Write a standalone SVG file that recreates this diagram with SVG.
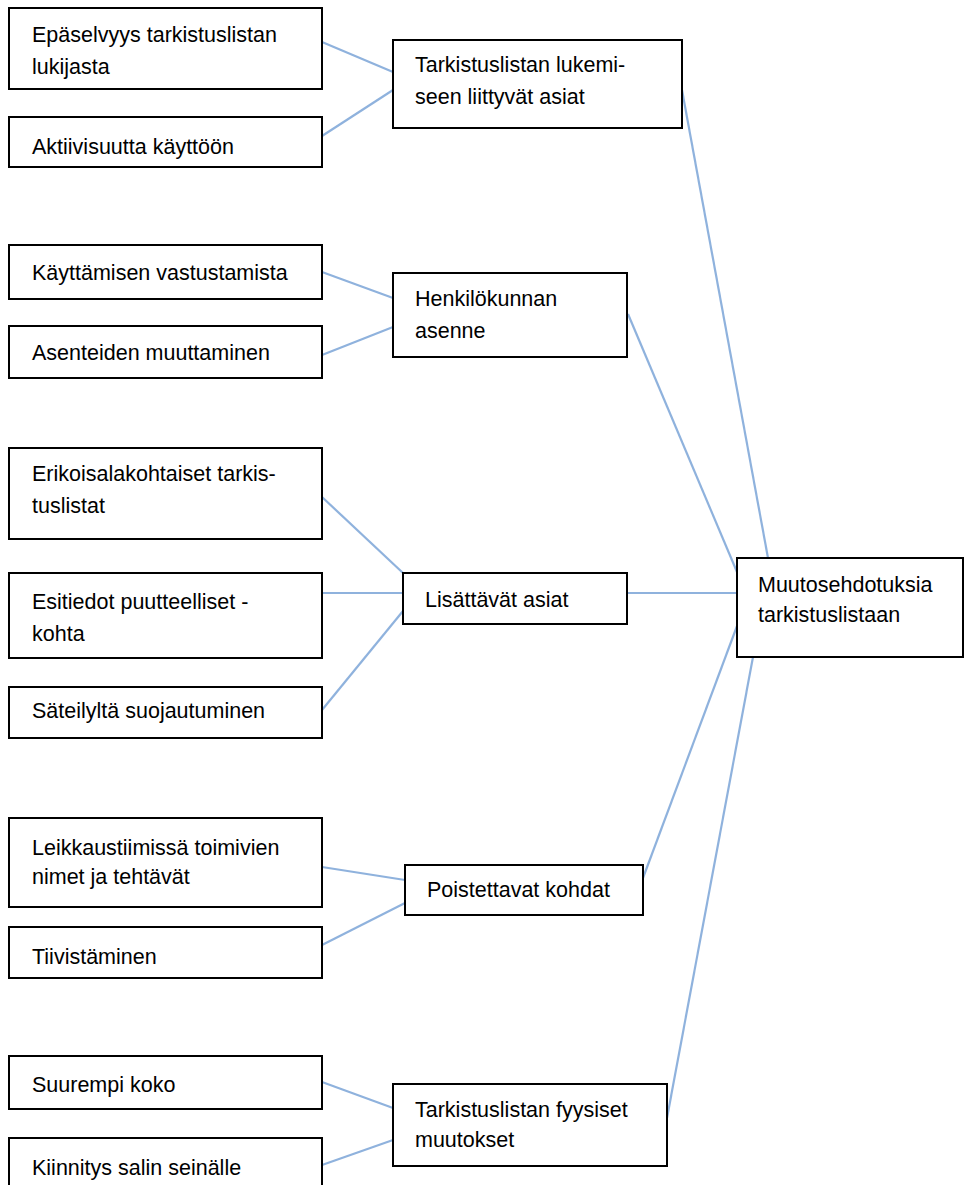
<svg xmlns="http://www.w3.org/2000/svg" width="964" height="1185" viewBox="0 0 964 1185">
<style>
.box{fill:#fff;stroke:#000;stroke-width:2}
.t{font-family:"Liberation Sans",Arial,sans-serif;font-size:21.5px;fill:#000}
.c line{stroke:#8fb2dd;stroke-width:2.2}
</style>
<rect width="964" height="1185" fill="#fff"/>
<g class="c" id="connectors">
<line x1="322" y1="42" x2="393" y2="72"/>
<line x1="322" y1="136" x2="393" y2="90"/>
<line x1="682" y1="90" x2="768" y2="558"/>
<line x1="322" y1="272" x2="393" y2="298"/>
<line x1="322" y1="355" x2="393" y2="327"/>
<line x1="628" y1="314" x2="737" y2="572"/>
<line x1="322" y1="497" x2="403" y2="573"/>
<line x1="322" y1="593" x2="403" y2="593"/>
<line x1="322" y1="710" x2="403" y2="611"/>
<line x1="627" y1="593" x2="737" y2="593"/>
<line x1="322" y1="867" x2="405" y2="880"/>
<line x1="322" y1="945" x2="405" y2="903"/>
<line x1="643" y1="878" x2="737" y2="626"/>
<line x1="322" y1="1082" x2="393" y2="1108"/>
<line x1="322" y1="1165" x2="393" y2="1140"/>
<line x1="667" y1="1118" x2="753" y2="657"/>
</g>
<g id="n1"><rect class="box" x="9" y="8" width="313" height="81"/><text class="t" x="32" y="42">Epäselvyys tarkistuslistan</text><text class="t" x="32" y="74">lukijasta</text></g>
<g id="n2"><rect class="box" x="9" y="117" width="313" height="50"/><text class="t" x="32" y="154">Aktiivisuutta käyttöön</text></g>
<g id="n3"><rect class="box" x="393" y="40" width="289" height="88"/><text class="t" x="415" y="72">Tarkistuslistan lukemi-</text><text class="t" x="415" y="104">seen liittyvät asiat</text></g>
<g id="n4"><rect class="box" x="9" y="245" width="313" height="54"/><text class="t" x="32" y="280">Käyttämisen vastustamista</text></g>
<g id="n5"><rect class="box" x="9" y="326" width="313" height="52"/><text class="t" x="32" y="360">Asenteiden muuttaminen</text></g>
<g id="n6"><rect class="box" x="393" y="273" width="234" height="84"/><text class="t" x="415" y="306">Henkilökunnan</text><text class="t" x="415" y="338">asenne</text></g>
<g id="n7"><rect class="box" x="9" y="448" width="313" height="91"/><text class="t" x="32" y="481">Erikoisalakohtaiset tarkis-</text><text class="t" x="32" y="513">tuslistat</text></g>
<g id="n8"><rect class="box" x="9" y="573" width="313" height="85"/><text class="t" x="32" y="609">Esitiedot puutteelliset -</text><text class="t" x="32" y="641">kohta</text></g>
<g id="n9"><rect class="box" x="9" y="687" width="313" height="51"/><text class="t" x="32" y="718">Säteilyltä suojautuminen</text></g>
<g id="n10"><rect class="box" x="403" y="573" width="224" height="51"/><text class="t" x="425" y="607">Lisättävät asiat</text></g>
<g id="n11"><rect class="box" x="737" y="558" width="226" height="99"/><text class="t" x="758" y="592">Muutosehdotuksia</text><text class="t" x="758" y="622">tarkistuslistaan</text></g>
<g id="n12"><rect class="box" x="9" y="818" width="313" height="89"/><text class="t" x="32" y="855">Leikkaustiimissä toimivien</text><text class="t" x="32" y="884">nimet ja tehtävät</text></g>
<g id="n13"><rect class="box" x="9" y="927" width="313" height="51"/><text class="t" x="32" y="964">Tiivistäminen</text></g>
<g id="n14"><rect class="box" x="405" y="865" width="238" height="50"/><text class="t" x="427" y="897">Poistettavat kohdat</text></g>
<g id="n15"><rect class="box" x="9" y="1056" width="313" height="53"/><text class="t" x="32" y="1092">Suurempi koko</text></g>
<g id="n16"><rect class="box" x="9" y="1138" width="313" height="60"/><text class="t" x="32" y="1175">Kiinnitys salin seinälle</text></g>
<g id="n17"><rect class="box" x="393" y="1084" width="274" height="82"/><text class="t" x="415" y="1117">Tarkistuslistan fyysiset</text><text class="t" x="415" y="1147">muutokset</text></g>
</svg>
